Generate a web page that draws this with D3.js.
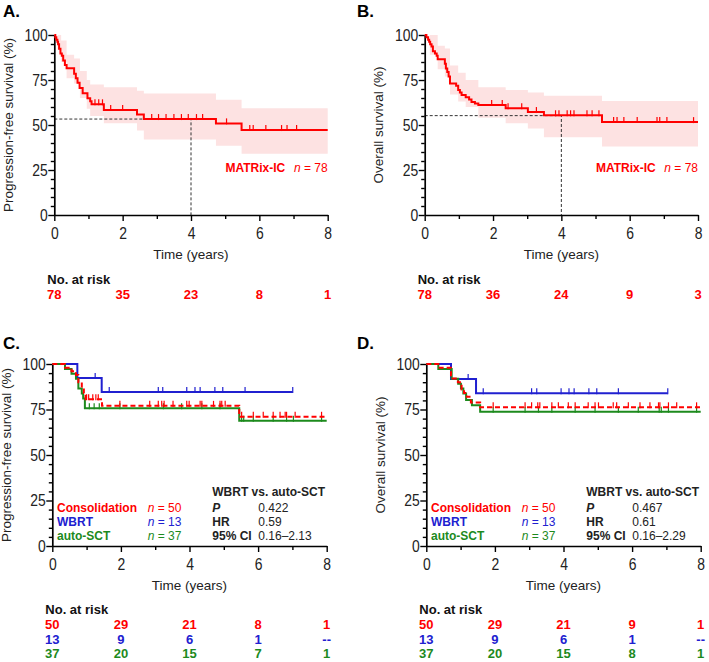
<!DOCTYPE html>
<html>
<head>
<meta charset="utf-8">
<script src="https://cdn.jsdelivr.net/npm/d3@7"></script>
<style>
  body { margin: 0; background: #fff; }
  svg { font-family: "Liberation Sans", Arial, sans-serif; }
</style>
</head>
<body>
<svg id="chart" width="709" height="662"></svg>
<script>
const RED = '#ff0000';
const BLUE = '#2020d0';
const GREEN = '#1d8a1d';

const xTicks = [0, 2, 4, 6, 8];
const xMinor = [1, 3, 5, 7];
const yTicks = [0, 25, 50, 75, 100];
const riskTimes = [0, 2, 4, 6, 8];

// A. PFS, MATRix-IC (time in years, survival %)
const pfsMatrixSteps = [
  [0, 100], [0.03, 98.7], [0.06, 97.4], [0.09, 96.2], [0.11, 94.9], [0.14, 92.3],
  [0.18, 89.7], [0.22, 88.5], [0.26, 85.9], [0.31, 83.3], [0.36, 81.5],
  [0.58, 78.5], [0.63, 76], [0.68, 73.5], [0.74, 70.5], [0.83, 67.6],
  [0.97, 64.8], [1.05, 63.2], [1.09, 61.5], [1.45, 58.3], [2.42, 55.8],
  [2.62, 53.3], [4.73, 50.9], [5.48, 47.2],
];
const pfsMatrixCensor = [1.19, 1.3, 1.41, 1.65, 2.0, 2.85, 3.05, 3.27, 3.5, 3.72,
  3.92, 4.16, 4.34, 5.04, 5.72, 5.82, 6.19, 6.65, 6.81, 7.09];
const pfsMatrixCI = [ // [time, lower, upper]
  [0, 100, 100], [0.1, 92, 100], [0.2, 85, 97], [0.36, 76, 89], [0.58, 73, 87],
  [0.75, 65, 80], [0.95, 59, 75], [1.05, 55, 72.5], [1.45, 51, 71],
  [2.42, 47, 69], [2.62, 42, 67.5], [4.73, 38.5, 64], [5.48, 34, 59.3],
];
const pfsMatrixLandmark = [4, 53.3];
const riskPfsMatrix = [78, 35, 23, 8, 1];

// B. OS, MATRix-IC
const osMatrixSteps = [
  [0, 100], [0.05, 98.7], [0.1, 97.4], [0.13, 96.2], [0.16, 94.9], [0.2, 93.6],
  [0.24, 91], [0.3, 89.7], [0.35, 88.5], [0.38, 86.5], [0.59, 84], [0.62, 81.4],
  [0.66, 79.5], [0.7, 76.9], [0.74, 73.1], [0.92, 71.8], [0.98, 69.4],
  [1.03, 68], [1.08, 66.7], [1.2, 65.4], [1.3, 64.1], [1.37, 62.8],
  [1.47, 62], [1.57, 61.1], [2.37, 59.3], [3.02, 57.2], [3.49, 55.4], [5.19, 51.6],
];
const osMatrixCensor = [1.96, 2.27, 2.44, 2.84, 3.27, 3.83, 3.93, 4.17, 4.27, 4.37,
  4.75, 4.9, 5.1, 5.53, 5.63, 5.83, 6.22, 6.8, 6.88, 7.09, 7.87];
const osMatrixCI = [
  [0, 100, 100], [0.15, 89, 100], [0.38, 81, 94], [0.59, 77, 92.5],
  [0.74, 67, 83], [0.98, 63, 79], [1.2, 60, 75], [1.57, 54, 71],
  [2.37, 51, 69.5], [3.02, 48, 68], [3.49, 43.2, 66.3], [5.19, 38, 63.3],
];
const osMatrixLandmark = [4, 55.2];
const riskOsMatrix = [78, 36, 24, 9, 3];

// C. PFS by consolidation
const pfsConsSteps = [[0, 100], [0.37, 98], [0.56, 96], [0.69, 94], [0.76, 90],
  [0.86, 86], [0.92, 84], [0.97, 80.6], [1.45, 77], [5.45, 71]];
const pfsConsCensor = [1.0, 1.06, 1.18, 1.27, 1.34, 1.97, 2.84, 3.09, 3.19, 3.26,
  3.52, 3.92, 3.99, 4.31, 4.36, 4.7, 4.89, 4.94, 5.04, 5.52, 5.86, 6.15, 6.44,
  6.64, 6.79, 6.83, 7.08, 7.85];
const pfsWbrtSteps = [[0, 100], [0.73, 92.3], [1.44, 84.6]];
const pfsWbrtCensor = [1.25, 1.66, 3.09, 3.22, 3.92, 4.16, 4.31, 4.74, 4.97, 5.62, 7.01];
const pfsAsctSteps = [[0, 100], [0.37, 97.3], [0.56, 94.6], [0.69, 91.9], [0.76, 86.5],
  [0.86, 83.8], [0.9, 81.1], [0.95, 75.7], [5.45, 68.8]];
const pfsAsctCensor = [1.08, 1.22, 1.37, 1.97, 3.24, 3.77, 4.36, 4.89, 5.52, 5.58,
  5.86, 6.44, 6.83, 7.03, 7.85];
const riskPfsCons = [50, 29, 21, 8, 1];
const riskPfsWbrt = [13, 9, 6, 1, '--'];
const riskPfsAsct = [37, 20, 15, 7, 1];
const pfsStats = ['0.422', '0.59', '0.16–2.13'];

// D. OS by consolidation
const osConsSteps = [[0, 100], [0.35, 98], [0.72, 92], [0.92, 90], [0.98, 88],
  [1.03, 86], [1.1, 84], [1.18, 82], [1.3, 78.8], [1.57, 76.2]];
const osConsCensor = [1.95, 2.88, 3.07, 3.25, 3.31, 3.66, 3.85, 4.14, 4.34, 4.72,
  4.92, 5.02, 5.45, 5.55, 5.89, 6.23, 6.52, 6.77, 6.81, 7.06, 7.3, 7.88];
const osWbrtSteps = [[0, 100], [0.72, 91.8], [1.45, 83.9]];
const osWbrtCensor = [1.22, 1.66, 3.07, 3.22, 3.93, 4.16, 4.31, 4.74, 4.97, 5.6, 7.04];
const osAsctSteps = [[0, 100], [0.35, 97.3], [0.74, 91.9], [0.93, 89.2], [1.01, 86.5],
  [1.08, 83.8], [1.16, 80.2], [1.33, 77.3], [1.57, 73.8]];
const osAsctCensor = [1.95, 2.88, 3.27, 3.66, 4.34, 4.92, 5.6, 6.18, 6.79, 6.85, 7.06, 7.88];
const riskOsCons = [50, 29, 21, 9, 1];
const riskOsWbrt = [13, 9, 6, 1, '--'];
const riskOsAsct = [37, 20, 15, 8, 1];
const osStats = ['0.467', '0.61', '0.16–2.29'];

const groupNames = ['Consolidation', 'WBRT', 'auto-SCT'];
const groupN = [50, 13, 37];
const groupColors = [RED, BLUE, GREEN];
const statNames = ['P', 'HR', '95% CI'];

const svg = d3.select('#chart');

function survAt(steps, t) {
  let v = steps[0][1];
  steps.forEach((s) => { if (s[0] <= t) v = s[1]; });
  return v;
}

function drawPanel(p) {
  const x = d3.scaleLinear().domain([0, 8]).range([p.x0, p.x1]);
  const y = d3.scaleLinear().domain([0, 100]).range([p.yBot, p.yTop]);
  const g = svg.append('g');

  g.append('text')
    .attr('x', p.lx).attr('y', p.ly)
    .attr('font-size', 17).attr('font-weight', 'bold')
    .text(p.letter + '.');

  // confidence band
  if (p.ci) {
    const last = p.ci[p.ci.length - 1];
    const area = d3.area()
      .curve(d3.curveStepAfter)
      .x((d) => x(d[0]))
      .y0((d) => y(d[1]))
      .y1((d) => y(d[2]));
    g.append('path')
      .datum(p.ci.concat([[8, last[1], last[2]]]))
      .attr('d', area)
      .attr('fill', '#fde2e2');
  }

  // landmark dashed lines
  if (p.landmark) {
    const [lt, lv] = p.landmark;
    g.append('path')
      .attr('d', `M${x(0)},${y(lv)}H${x(lt)}V${y(0)}`)
      .attr('fill', 'none').attr('stroke', '#333')
      .attr('stroke-width', 1).attr('stroke-dasharray', '3,2');
  }

  // axes
  const yAxis = g.append('g').attr('transform', `translate(${p.x0},0)`)
    .call(d3.axisLeft(y).tickValues(yTicks).tickSize(6).tickSizeOuter(0).tickPadding(2));
  g.append('g').attr('transform', `translate(${p.x0},0)`)
    .call(d3.axisLeft(y).tickValues(d3.range(0, 101, 5).filter((v) => v % 25)).tickSize(3.5).tickSizeOuter(0).tickFormat(''))
    .call((a) => a.select('.domain').remove());
  const xAxis = g.append('g').attr('transform', `translate(0,${p.yBot})`)
    .call(d3.axisBottom(x).tickValues(xTicks).tickSize(6).tickSizeOuter(0).tickPadding(6));
  g.append('g').attr('transform', `translate(0,${p.yBot})`)
    .call(d3.axisBottom(x).tickValues(xMinor).tickSize(4).tickSizeOuter(0).tickFormat(''))
    .call((a) => a.select('.domain').remove());

  g.selectAll('.domain').attr('stroke', '#000').attr('stroke-width', 1.7);
  g.selectAll('.tick line').attr('stroke', '#000').attr('stroke-width', 1.4);
  [yAxis, xAxis].forEach((a) => {
    a.attr('font-family', null).attr('font-size', null);
    a.selectAll('text')
      .attr('font-size', 17).attr('fill', '#222')
      .attr('transform', 'scale(0.82,1)');
  });

  g.append('text')
    .attr('transform', `translate(${p.x0 - 41.5},${(p.yTop + p.yBot) / 2}) rotate(-90)`)
    .attr('text-anchor', 'middle').attr('font-size', 13.5).attr('fill', '#222')
    .text(p.yLabel);
  g.append('text')
    .attr('x', (p.x0 + p.x1) / 2).attr('y', p.yBot + 44)
    .attr('text-anchor', 'middle').attr('font-size', 13.5).attr('fill', '#222')
    .text('Time (years)');

  // survival curves with censor marks
  const line = d3.line()
    .curve(d3.curveStepAfter)
    .x((d) => x(d[0]))
    .y((d) => y(d[1]));
  p.series.forEach((s) => {
    const pts = s.steps.concat([[s.end, s.steps[s.steps.length - 1][1]]]);
    g.append('path')
      .datum(pts)
      .attr('d', line)
      .attr('fill', 'none')
      .attr('stroke', s.color)
      .attr('stroke-width', 2)
      .attr('stroke-dasharray', s.dash ? '5,3' : null);
    g.selectAll(null)
      .data(s.censor)
      .join('line')
      .attr('x1', (d) => x(d)).attr('x2', (d) => x(d))
      .attr('y1', (d) => y(survAt(s.steps, d)) + 1)
      .attr('y2', (d) => y(survAt(s.steps, d)) - 5)
      .attr('stroke', s.color).attr('stroke-width', 1.2);
  });

  // single-arm label
  if (p.armLabel) {
    g.append('text')
      .attr('x', p.x0 + 231).attr('y', p.armY)
      .attr('text-anchor', 'end').attr('font-size', 12).attr('font-weight', 'bold')
      .attr('fill', RED).text('MATRix-IC');
    const t = g.append('text')
      .attr('x', p.x1).attr('y', p.armY)
      .attr('text-anchor', 'end').attr('font-size', 12).attr('fill', RED);
    t.append('tspan').attr('font-style', 'italic').text('n');
    t.append('tspan').text(' = 78');
  }

  // group legend and stats
  if (p.stats) {
    groupNames.forEach((name, i) => {
      const by = p.legY + i * 14.3;
      g.append('text')
        .attr('x', p.x0 + 4.7).attr('y', by)
        .attr('font-size', 12).attr('font-weight', 'bold')
        .attr('fill', groupColors[i]).text(name);
      const t = g.append('text')
        .attr('x', p.x0 + 95.4).attr('y', by)
        .attr('font-size', 12).attr('fill', groupColors[i]);
      t.append('tspan').attr('font-style', 'italic').text('n');
      t.append('tspan').text(` = ${groupN[i]}`);
      g.append('text')
        .attr('x', p.x0 + 160).attr('y', by)
        .attr('font-size', 12).attr('font-weight', 'bold')
        .attr('font-style', i === 0 ? 'italic' : null)
        .attr('fill', '#222').text(statNames[i]);
      g.append('text')
        .attr('x', p.x0 + 206).attr('y', by)
        .attr('font-size', 12).attr('fill', '#222').text(p.stats[i]);
    });
    g.append('text')
      .attr('x', p.x0 + 160).attr('y', p.legY - 15.5)
      .attr('font-size', 12).attr('font-weight', 'bold')
      .attr('fill', '#222').text('WBRT vs. auto-SCT');
  }

  // number at risk
  g.append('text')
    .attr('x', p.x0 - 7).attr('y', p.riskHeadY)
    .attr('font-size', 13).attr('font-weight', 'bold').attr('fill', '#111')
    .text('No. at risk');
  p.risk.forEach((r, i) => {
    g.selectAll(null)
      .data(r.values)
      .join('text')
      .attr('x', (d, j) => x(riskTimes[j]))
      .attr('y', p.riskHeadY + 15 + i * 14.5)
      .attr('text-anchor', 'middle')
      .attr('font-size', 13).attr('font-weight', 'bold')
      .attr('fill', r.color)
      .text((d) => d);
  });
}

drawPanel({
  letter: 'A', lx: 3, ly: 17,
  x0: 54.3, x1: 327.7, yTop: 35, yBot: 215,
  yLabel: 'Progression-free survival (%)',
  ci: pfsMatrixCI, landmark: pfsMatrixLandmark,
  series: [{ steps: pfsMatrixSteps, censor: pfsMatrixCensor, end: 8, color: RED }],
  armLabel: true, armY: 171.5,
  riskHeadY: 283.5,
  risk: [{ values: riskPfsMatrix, color: RED }],
});

drawPanel({
  letter: 'B', lx: 357, ly: 17,
  x0: 424.7, x1: 698, yTop: 35, yBot: 215,
  yLabel: 'Overall survival (%)',
  ci: osMatrixCI, landmark: osMatrixLandmark,
  series: [{ steps: osMatrixSteps, censor: osMatrixCensor, end: 8, color: RED }],
  armLabel: true, armY: 171.5,
  riskHeadY: 283.5,
  risk: [{ values: riskOsMatrix, color: RED }],
});

drawPanel({
  letter: 'C', lx: 3, ly: 349,
  x0: 52.3, x1: 326.7, yTop: 364, yBot: 546,
  yLabel: 'Progression-free survival (%)',
  series: [
    { steps: pfsWbrtSteps, censor: pfsWbrtCensor, end: 7.01, color: BLUE },
    { steps: pfsAsctSteps, censor: pfsAsctCensor, end: 8, color: GREEN },
    { steps: pfsConsSteps, censor: pfsConsCensor, end: 8, color: RED, dash: true },
  ],
  stats: pfsStats, legY: 511.5,
  riskHeadY: 614,
  risk: [
    { values: riskPfsCons, color: RED },
    { values: riskPfsWbrt, color: BLUE },
    { values: riskPfsAsct, color: GREEN },
  ],
});

drawPanel({
  letter: 'D', lx: 357, ly: 349,
  x0: 426.3, x1: 700.7, yTop: 364, yBot: 546,
  yLabel: 'Overall survival (%)',
  series: [
    { steps: osWbrtSteps, censor: osWbrtCensor, end: 7.04, color: BLUE },
    { steps: osAsctSteps, censor: osAsctCensor, end: 8, color: GREEN },
    { steps: osConsSteps, censor: osConsCensor, end: 8, color: RED, dash: true },
  ],
  stats: osStats, legY: 511.5,
  riskHeadY: 614,
  risk: [
    { values: riskOsCons, color: RED },
    { values: riskOsWbrt, color: BLUE },
    { values: riskOsAsct, color: GREEN },
  ],
});
</script>
</body>
</html>
